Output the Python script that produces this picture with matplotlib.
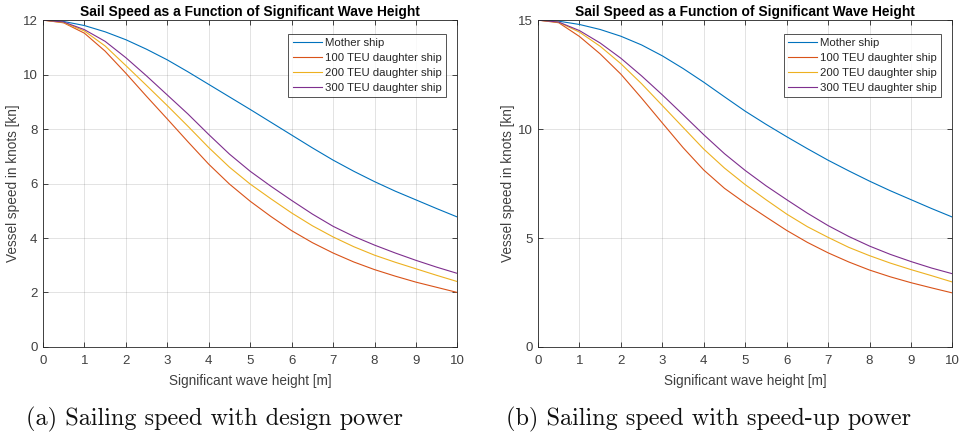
import numpy as np
import matplotlib
matplotlib.use("Agg")
import matplotlib.pyplot as plt

# Significant wave height [m]
wave_height = [0, 0.5, 1, 1.5, 2, 2.5, 3, 3.5, 4, 4.5, 5,
               5.5, 6, 6.5, 7, 7.5, 8, 8.5, 9, 9.5, 10]

series_names = ["Mother ship", "100 TEU daughter ship",
                "200 TEU daughter ship", "300 TEU daughter ship"]

# Vessel speed [kn] with design power
design_mother = [12.0, 11.95, 11.80, 11.57, 11.28, 10.93, 10.54, 10.10, 9.64, 9.18, 8.72,
                 8.25, 7.78, 7.31, 6.86, 6.45, 6.07, 5.72, 5.40, 5.08, 4.77]
design_100teu = [12.0, 11.90, 11.52, 10.86, 10.05, 9.20, 8.37, 7.53, 6.71, 5.98, 5.35,
                 4.79, 4.27, 3.83, 3.45, 3.12, 2.84, 2.60, 2.38, 2.19, 2.00]
design_200teu = [12.0, 11.91, 11.60, 11.05, 10.33, 9.60, 8.86, 8.10, 7.32, 6.60, 5.98,
                 5.44, 4.92, 4.45, 4.04, 3.68, 3.37, 3.11, 2.87, 2.63, 2.40]
design_300teu = [12.0, 11.93, 11.65, 11.22, 10.62, 9.95, 9.25, 8.55, 7.80, 7.08, 6.45,
                 5.90, 5.38, 4.88, 4.43, 4.06, 3.74, 3.45, 3.18, 2.93, 2.70]

# Vessel speed [kn] with speed-up power
speedup_mother = [15.0, 14.95, 14.80, 14.57, 14.26, 13.86, 13.36, 12.78, 12.15, 11.48, 10.82,
                  10.22, 9.65, 9.10, 8.57, 8.08, 7.61, 7.17, 6.76, 6.35, 5.96]
speedup_100teu = [15.0, 14.88, 14.25, 13.45, 12.52, 11.42, 10.28, 9.15, 8.12, 7.28, 6.60,
                  5.97, 5.35, 4.80, 4.32, 3.90, 3.53, 3.22, 2.95, 2.71, 2.48]
speedup_200teu = [15.0, 14.90, 14.45, 13.80, 13.00, 12.08, 11.08, 10.08, 9.08, 8.21, 7.45,
                  6.76, 6.10, 5.52, 5.03, 4.57, 4.19, 3.85, 3.55, 3.27, 2.98]
speedup_300teu = [15.0, 14.91, 14.52, 13.95, 13.25, 12.44, 11.57, 10.66, 9.74, 8.87, 8.10,
                  7.40, 6.76, 6.14, 5.57, 5.07, 4.63, 4.25, 3.92, 3.62, 3.36]

x_ticks = list(range(0, 11))
design_yticks = [0, 2, 4, 6, 8, 10, 12]
speedup_yticks = [0, 5, 10, 15]

title_text = "Sail Speed as a Function of Significant Wave Height"
xlabel_text = "Significant wave height [m]"
ylabel_text = "Vessel speed in knots [kn]"
captions = ["(a) Sailing speed with design power",
            "(b) Sailing speed with speed-up power"]

line_colors = ["#0072BD", "#D95319", "#EDB120", "#7E2F8E"]
axis_gray = "#262626"

plt.rcParams["font.family"] = ["Liberation Sans", "DejaVu Sans"]

fig = plt.figure(figsize=(9.61, 4.37), dpi=100)
fig.patch.set_facecolor("white")

panels = [
    (0.0447, 0.027, [design_mother, design_100teu, design_200teu, design_300teu], 12, design_yticks),
    (0.5598, 0.5265, [speedup_mother, speedup_100teu, speedup_200teu, speedup_300teu], 15, speedup_yticks),
]

for i, (left, cap_x, data, ymax, yticks) in enumerate(panels):
    ax = fig.add_axes([left, 0.206, 0.4313, 0.748])
    for vals, name, col in zip(data, series_names, line_colors):
        ax.plot(wave_height, vals, color=col, lw=0.8, label=name)
    ax.set_xlim(0, 10)
    ax.set_ylim(0, ymax)
    ax.set_xticks(x_ticks)
    ax.set_yticks(yticks)
    ax.grid(True, color="#262626", alpha=0.15, lw=0.6)
    ax.set_axisbelow(True)
    ax.tick_params(direction="in", length=3.5, width=0.6, colors=axis_gray,
                   labelsize=9.5, top=True, right=True,
                   labelcolor="#404040")
    ax.tick_params(axis="x", pad=6)
    ax.tick_params(axis="y", pad=4)
    for sp in ax.spines.values():
        sp.set_color(axis_gray)
        sp.set_linewidth(0.6)
    ax.set_title(title_text, fontsize=9.9, fontweight="bold", color="black", pad=3)
    ax.set_xlabel(xlabel_text, fontsize=9.8, color="#404040", labelpad=5)
    ax.set_ylabel(ylabel_text, fontsize=9.8, color="#404040", labelpad=2)
    leg = ax.legend(loc="upper right", bbox_to_anchor=(0.973, 0.958), fontsize=8.2,
                    frameon=True, fancybox=False, handlelength=2.5,
                    handletextpad=0.3, borderpad=0.4, labelspacing=0.42,
                    borderaxespad=0)
    leg.get_frame().set_edgecolor(axis_gray)
    leg.get_frame().set_linewidth(0.7)
    for t in leg.get_texts():
        t.set_color("#262626")
    fig.text(cap_x, 0.027, captions[i],
             fontsize=17.5, family=["cmr10", "DejaVu Serif"], color="#111111",
             ha="left", va="baseline")

fig.savefig("out.png", dpi=100)
